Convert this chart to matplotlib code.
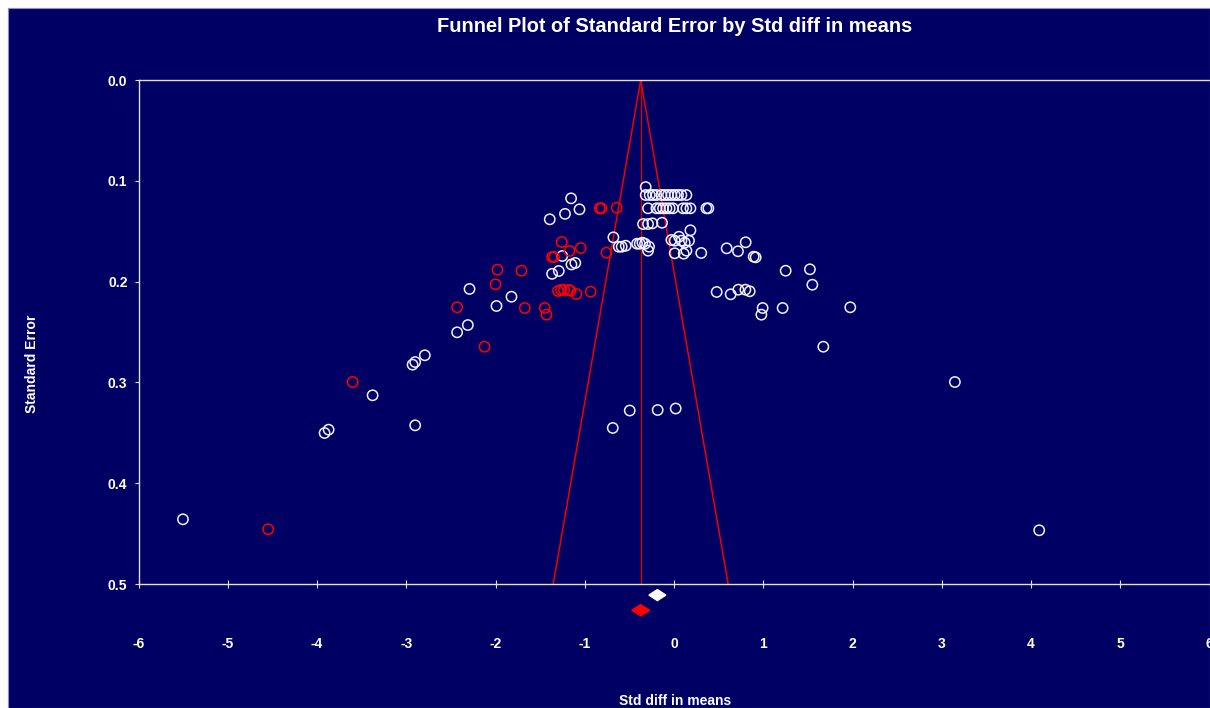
import matplotlib
matplotlib.use("Agg")
import matplotlib.pyplot as plt
from matplotlib.patches import Polygon, Rectangle

plt.rcParams['font.family'] = ['Liberation Sans', 'DejaVu Sans']

NAVY = '#000064'

# observed studies (Std diff in means, standard error)
obs_x = [-5.502, 4.092, 3.147, 1.975, 1.673, 1.550, 1.523, 1.251, 1.217, 0.993,
         0.979, 0.478, 0.635, 0.721, 0.800, 0.848, 0.590, 0.717, 0.803, 0.893,
         0.915, 0.305, 0.184, -0.029, 0.008, 0.056, 0.083, 0.120, 0.168, 0.008,
         0.109, 0.139, -0.679, -0.619, -0.586, -0.541, -0.414, -0.384, -0.354, -0.325,
         -0.280, -0.291, -0.347, -0.291, -0.242, -0.134, -0.317,
         -0.317, -0.272, -0.235, -0.197, -0.141, -0.104, -0.067, -0.029, 0.008, 0.045,
         0.083, 0.139,
         -0.291, -0.197, -0.160, -0.123, -0.085, -0.048, -0.011, 0.101, 0.139, 0.184,
         0.363, 0.385,
         -1.153, -1.059, -1.221, -1.392, -1.252, -1.149, -1.106, -1.291, -1.366, -2.291,
         -1.821, -1.989, -2.310, -2.430, -2.792, -2.900, -2.929, -3.377, -2.900, -3.870,
         -3.915, -0.686, -0.496, -0.183, 0.019]
obs_se = [0.4358, 0.4467, 0.2996, 0.2255, 0.2646, 0.2031, 0.1878, 0.1892, 0.2262, 0.2262,
          0.2328, 0.2103, 0.2126, 0.2080, 0.2080, 0.2096, 0.1670, 0.1699, 0.1610, 0.1753,
          0.1759, 0.1716, 0.1491, 0.1587, 0.1594, 0.1555, 0.1594, 0.1614, 0.1594, 0.1719,
          0.1723, 0.1693, 0.1561, 0.1654, 0.1654, 0.1644, 0.1624, 0.1624, 0.1614, 0.1624,
          0.1654, 0.1693, 0.1429, 0.1429, 0.1422, 0.1416, 0.1062,
          0.1141, 0.1141, 0.1141, 0.1141, 0.1141, 0.1141, 0.1141, 0.1141, 0.1141, 0.1141,
          0.1141, 0.1141,
          0.1273, 0.1273, 0.1273, 0.1273, 0.1273, 0.1273, 0.1273, 0.1273, 0.1273, 0.1273,
          0.1273, 0.1273,
          0.1174, 0.1283, 0.1328, 0.1382, 0.1746, 0.1830, 0.1815, 0.1895, 0.1923, 0.2073,
          0.2150, 0.2242, 0.2431, 0.2503, 0.2731, 0.2798, 0.2824, 0.3128, 0.3426, 0.3469,
          0.3502, 0.3452, 0.3279, 0.3274, 0.3259]

# imputed studies (trim and fill)
imp_x = [-4.547, -3.601, -2.123, -2.430, -1.672, -1.448, -1.429, -2.000, -1.978, -1.709,
         -1.299, -1.265, -1.232, -1.179, -1.160, -1.093, -0.933, -1.258, -1.045, -1.171,
         -1.366, -1.344, -0.757, -0.832, -0.813, -0.642]
imp_se = [0.4457, 0.2996, 0.2646, 0.2255, 0.2262, 0.2262, 0.2328, 0.2027, 0.1882, 0.1892,
          0.2093, 0.2083, 0.2083, 0.2083, 0.2090, 0.2123, 0.2100, 0.1607, 0.1667, 0.1696,
          0.1756, 0.1756, 0.1713, 0.1273, 0.1273, 0.1267]

# combined effects: point estimate, half width, row below the axis
obs_mean, obs_half, obs_row = -0.186, 0.095, 0.511
adj_mean, adj_half, adj_row = -0.373, 0.100, 0.526

fig = plt.figure(figsize=(12.1, 7.08), dpi=100, facecolor='white')
fig.patches.append(Rectangle((8 / 1210, 0), 1 - 8 / 1210, 1 - 8 / 708,
                             transform=fig.transFigure, facecolor=NAVY,
                             edgecolor='#9090c0', linewidth=0.8, zorder=-1))

ax = fig.add_axes([138.5 / 1210, 1 - 584 / 708, 1071 / 1210, 504 / 708])
ax.set_facecolor(NAVY)
ax.set_xlim(-6, 6)
ax.set_ylim(0.5, 0)

# funnel around the adjusted mean
ax.plot([adj_mean - 1.96 * 0.5, adj_mean, adj_mean + 1.96 * 0.5], [0.5, 0, 0.5],
        color='#ee0000', lw=1.1, zorder=2)
ax.plot([adj_mean, adj_mean], [0, 0.5], color='#dd0000', lw=0.9, zorder=2)

ax.scatter(obs_x, obs_se, s=55, facecolors='none', edgecolors='#f0f0ff',
           linewidths=1.1, zorder=3)
ax.scatter(imp_x, imp_se, s=55, facecolors='none', edgecolors='#ff0000',
           linewidths=1.1, zorder=3)

for m, h, r, c in [(obs_mean, obs_half, obs_row, 'white'),
                   (adj_mean, adj_half, adj_row, '#ff0000')]:
    d = Polygon([[m - h, r], [m, r - 0.0055], [m + h, r], [m, r + 0.0055]],
                closed=True, facecolor=c, edgecolor=c, clip_on=False, zorder=4)
    ax.add_patch(d)

for side in ['left', 'top', 'bottom']:
    ax.spines[side].set_color('#e0e0e0')
    ax.spines[side].set_linewidth(1.0)
ax.spines['right'].set_color('#8080b0')

ax.set_xticks(range(-6, 7))
ax.set_xticklabels([str(v) for v in range(-6, 7)])
ax.set_yticks([0.0, 0.1, 0.2, 0.3, 0.4, 0.5])
ax.set_yticklabels(['0.0', '0.1', '0.2', '0.3', '0.4', '0.5'])
ax.tick_params(axis='x', direction='inout', length=6, color='#e0e0e0',
               labelcolor='white', pad=35, labelsize=10)
ax.tick_params(axis='y', direction='out', length=3, color='#e0e0e0',
               labelcolor='white', pad=5, labelsize=10)
for lbl in ax.get_xticklabels() + ax.get_yticklabels():
    lbl.set_fontweight('bold')

fig.text(675 / 1210, 1 - 27 / 708, 'Funnel Plot of Standard Error by Std diff in means',
         color='white', fontsize=14.4, fontweight='bold', ha='center', va='center')
fig.text(675 / 1210, 1 - 701 / 708, 'Std diff in means', color='white',
         fontsize=10, fontweight='bold', ha='center', va='center')
fig.text(32 / 1210, 1 - 364 / 708, 'Standard Error', color='white', fontsize=10,
         fontweight='bold', ha='center', va='center', rotation=90)

fig.savefig('out.png', dpi=100, facecolor=fig.get_facecolor())
